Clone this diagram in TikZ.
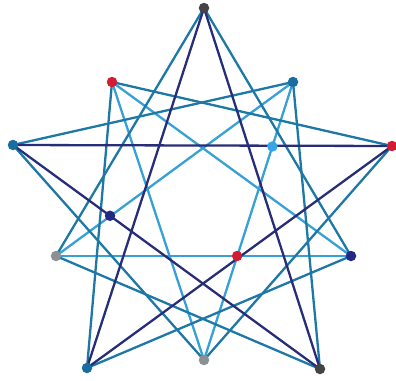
\documentclass[tikz,border=0pt]{standalone}
\usetikzlibrary{calc}
\begin{document}
\begin{tikzpicture}[x=1pt,y=-1pt,
  tealc/.style={draw={rgb,255:red,30;green,120;blue,165},line width=2.3pt},
  navyc/.style={draw={rgb,255:red,40;green,45;blue,120},line width=2.3pt},
  lbluec/.style={draw={rgb,255:red,55;green,160;blue,215},line width=2.3pt},
  dot/.style={circle,inner sep=0pt,minimum size=10.5pt,fill=#1}]
\useasboundingbox (0,0) rectangle (396,380);
\definecolor{dgray}{RGB}{68,68,70}
\definecolor{dred}{RGB}{210,30,50}
\definecolor{dteal}{RGB}{25,110,160}
\definecolor{dlblue}{RGB}{55,165,225}
\definecolor{dnavy}{RGB}{35,40,130}
\definecolor{mgray}{RGB}{140,143,148}
\coordinate (T) at (204,8);
\coordinate (A) at (112,82);
\coordinate (B) at (293,82);
\coordinate (L) at (13,145);
\coordinate (R) at (392,146);
\coordinate (G) at (56,256);
\coordinate (F) at (351,256);
\coordinate (P) at (87,368);
\coordinate (Q) at (204,360);
\coordinate (S) at (320,369);
% light blue
\draw[lbluec] (A) -- (Q);
\draw[lbluec] (A) -- (F);
\draw[lbluec] (B) -- (G);
\draw[lbluec] (B) -- (Q);
\draw[lbluec] (G) -- (F);
% teal
\draw[tealc] (T) -- (G);
\draw[tealc] (T) -- (F);
\draw[tealc] (A) -- (R);
\draw[tealc] (A) -- (P);
\draw[tealc] (B) -- (L);
\draw[tealc] (B) -- (S);
\draw[tealc] (L) -- (Q);
\draw[tealc] (R) -- (Q);
\draw[tealc] (G) -- (S);
\draw[tealc] (F) -- (P);
% navy
\draw[navyc] (T) -- (P);
\draw[navyc] (T) -- (S);
\draw[navyc] (L) -- (R);
\draw[navyc] (L) -- (S);
\draw[navyc] (R) -- (P);
% dots
\node[dot=dgray] (nT) at (T) {};
\node[dot=dred] (nA) at (A) {};
\node[dot=dteal] (nB) at (B) {};
\node[dot=dteal] (nL) at (L) {};
\node[dot=dred] (nR) at (R) {};
\node[dot=dlblue] (nC) at ($(B)!0.232!(Q)$) {};
\node[dot=dnavy] (nD) at ($(L)!0.316!(S)$) {};
\node[dot=mgray] (nG) at (G) {};
\node[dot=dred] (nE) at ($(G)!0.614!(F)$) {};
\node[dot=dnavy] (nF) at (F) {};
\node[dot=dteal] (nP) at (P) {};
\node[dot=mgray] (nQ) at (Q) {};
\node[dot=dgray] (nS) at (S) {};
\end{tikzpicture}
\end{document}
